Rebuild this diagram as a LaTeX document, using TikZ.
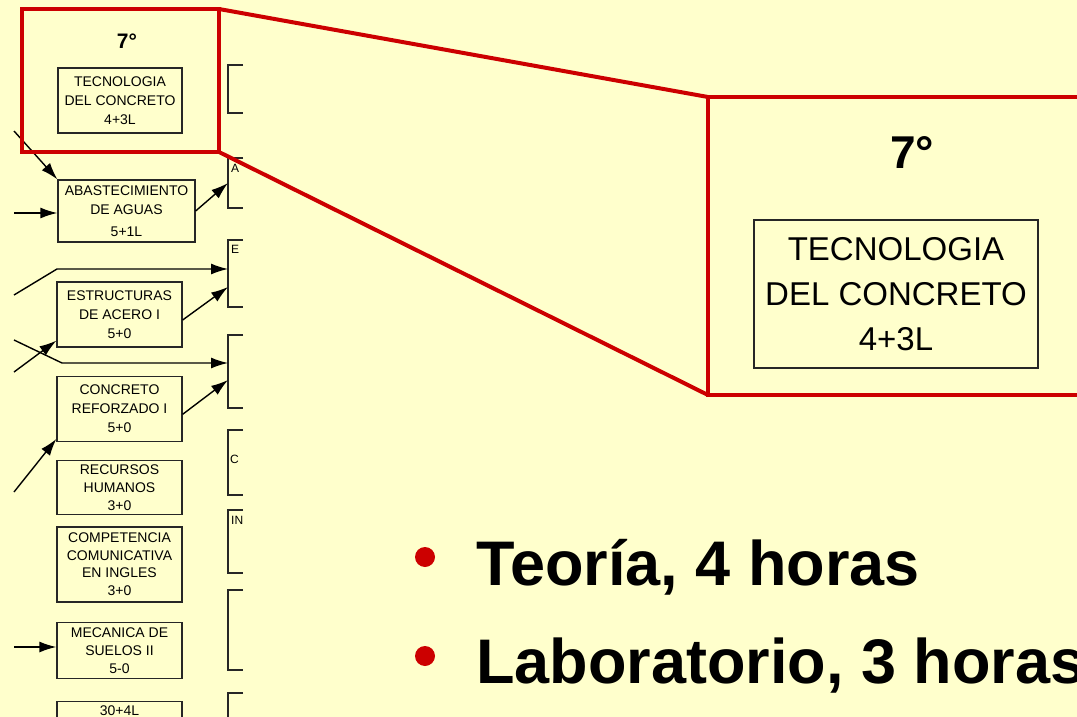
\documentclass[tikz,border=0pt]{standalone}
\usepackage{fontspec}
\setmainfont{Liberation Sans}
\usepackage{tikz}
\usetikzlibrary{arrows.meta,positioning,calc}
\definecolor{slideyellow}{HTML}{FFFFCC}
\definecolor{slidered}{HTML}{CC0000}

\begin{document}
\begin{tikzpicture}[x=1pt, y=-1pt,
    coursenode/.style={draw=black!85, line width=1.3pt, minimum width=125pt, align=center, inner sep=0pt, font=\fontsize{14}{19}\selectfont},
    partnode/.style={minimum width=15pt, inner sep=0pt, outer sep=0pt},
    parttext/.style={inner sep=0pt, anchor=north west, font=\fontsize{12}{12}\selectfont},
    zoomnode/.style={draw=slidered, line width=4pt, inner sep=0pt, outer sep=0pt},
    linkline/.style={line width=1.4pt, -{Latex[length=17pt, width=11pt]}},
    bulletnode/.style={circle, fill=slidered, minimum size=20pt, inner sep=0pt},
    bullettext/.style={anchor=base west, inner sep=0pt, font=\fontsize{63}{70}\selectfont\bfseries}]
    \useasboundingbox (0,0) rectangle (1077,717);
    \fill[slideyellow] (0,0) rectangle (1077,717);

    % columna del 7o semestre
    \node[font=\fontsize{21}{21}\selectfont\bfseries] (deg) at (127,41) {7°};
    \node[coursenode, minimum width=124pt, minimum height=65pt] (tec) at (120,100.5) {TECNOLOGIA\\DEL CONCRETO\\4+3L};
    \node[coursenode, minimum width=137pt, minimum height=62pt] (abas) at (126.5,211) {ABASTECIMIENTO\\DE AGUAS\\[3pt]5+1L};
    \node[coursenode, minimum height=65pt] (estr) at (119.5,314.5) {ESTRUCTURAS\\DE ACERO I\\5+0};
    \node[coursenode, minimum height=65pt] (conc) [below=28pt of estr] {CONCRETO\\REFORZADO I\\5+0};
    \node[coursenode, minimum height=54pt, font=\fontsize{14}{18}\selectfont] (recu) [below=18pt of conc] {RECURSOS\\HUMANOS\\3+0};
    \node[coursenode, minimum height=75pt, font=\fontsize{14}{17.5}\selectfont] (comp) [below=11pt of recu] {COMPETENCIA\\COMUNICATIVA\\EN INGLES\\3+0};
    \node[coursenode, minimum height=56pt, font=\fontsize{14}{18}\selectfont] (meca) [below=19pt of comp] {MECANICA DE\\SUELOS II\\5-0};
    \node[coursenode, minimum height=27pt, text depth=8pt] (total) [below=22pt of meca] {30+4L};

    % columna siguiente, cortada
    \foreach \n/\y/\h in {r1/89/48, r2/183/50, r3/273.5/67, r4/371.5/73, r5/462.5/65, r6/541.5/63, r7/630/80, r8/716.5/47}{
        \node[partnode, minimum height=\h pt] (\n) at (235.5,\y) {};
        \draw[black!85, line width=1.3pt] (\n.north east) -| (\n.south west) -- (\n.south east);
    }
    \node[parttext] (r2txt) at (231,164) {A};
    \node[parttext] (r3txt) at (231,245) {E};
    \node[parttext] (r5txt) at (230,455) {C};
    \node[parttext] (r6txt) at (231,516) {IN};

    % flechas
    \coordinate (in1) at (14,131);
    \coordinate (in2) at (14,213);
    \coordinate (in3) at (14,295);
    \coordinate (in4) at (14,340);
    \coordinate (in5) at (14,372);
    \coordinate (in6) at (14,492);
    \coordinate (in7) at (14,647);
    \coordinate (k3) at (57,269);
    \coordinate (k4) at (62,363);
    \draw[linkline] (in1) -- (abas.north west);
    \draw[linkline] (in2) -- (in2 -| abas.west);
    \draw[linkline] (abas.east) -- (r2.west);
    \draw[linkline] (in3) -- (k3) -- (k3 -| r3.west);
    \draw[linkline] ([yshift=-5.5pt]estr.east) -- ([yshift=-13.5pt]r3.west);
    \draw[linkline] (in4) -- (k4) -- (k4 -| r4.west);
    \draw[linkline] (in5) -- ([yshift=7pt]estr.south west);
    \draw[linkline] ([yshift=-5.5pt]conc.east) -- ([yshift=-8.5pt]r4.west);
    \draw[linkline] (in6) -- ([yshift=3pt]conc.south west);
    \draw[linkline] (in7) -- (in7 -| meca.west);

    % ampliacion
    \node[zoomnode, minimum width=197pt, minimum height=143pt] (zsrc) at (120.5,80.5) {};
    \node[zoomnode, minimum width=387pt, minimum height=298pt] (zdst) at (901.5,246) {};
    \draw[slidered, line width=4pt] (zsrc.north east) -- (zdst.north west);
    \draw[slidered, line width=4pt] (zsrc.south east) -- (zdst.south west);
    \node[font=\fontsize{46}{46}\selectfont\bfseries] (bigdeg) at (912,152) {7°};
    \node[coursenode, minimum width=284pt, minimum height=148pt, line width=2.5pt, font=\fontsize{33}{45}\selectfont] (tecbig) at (896,294) {TECNOLOGIA\\DEL CONCRETO\\4+3L};

    % vinetas
    \node[bulletnode] (b1) at (425,557) {};
    \node[bullettext] (t1) at (476,585) {Teoría, 4 horas};
    \node[bulletnode] (b2) at (425,656) {};
    \node[bullettext] (t2) at (476,683) {Laboratorio, 3 horas};
\end{tikzpicture}
\end{document}
